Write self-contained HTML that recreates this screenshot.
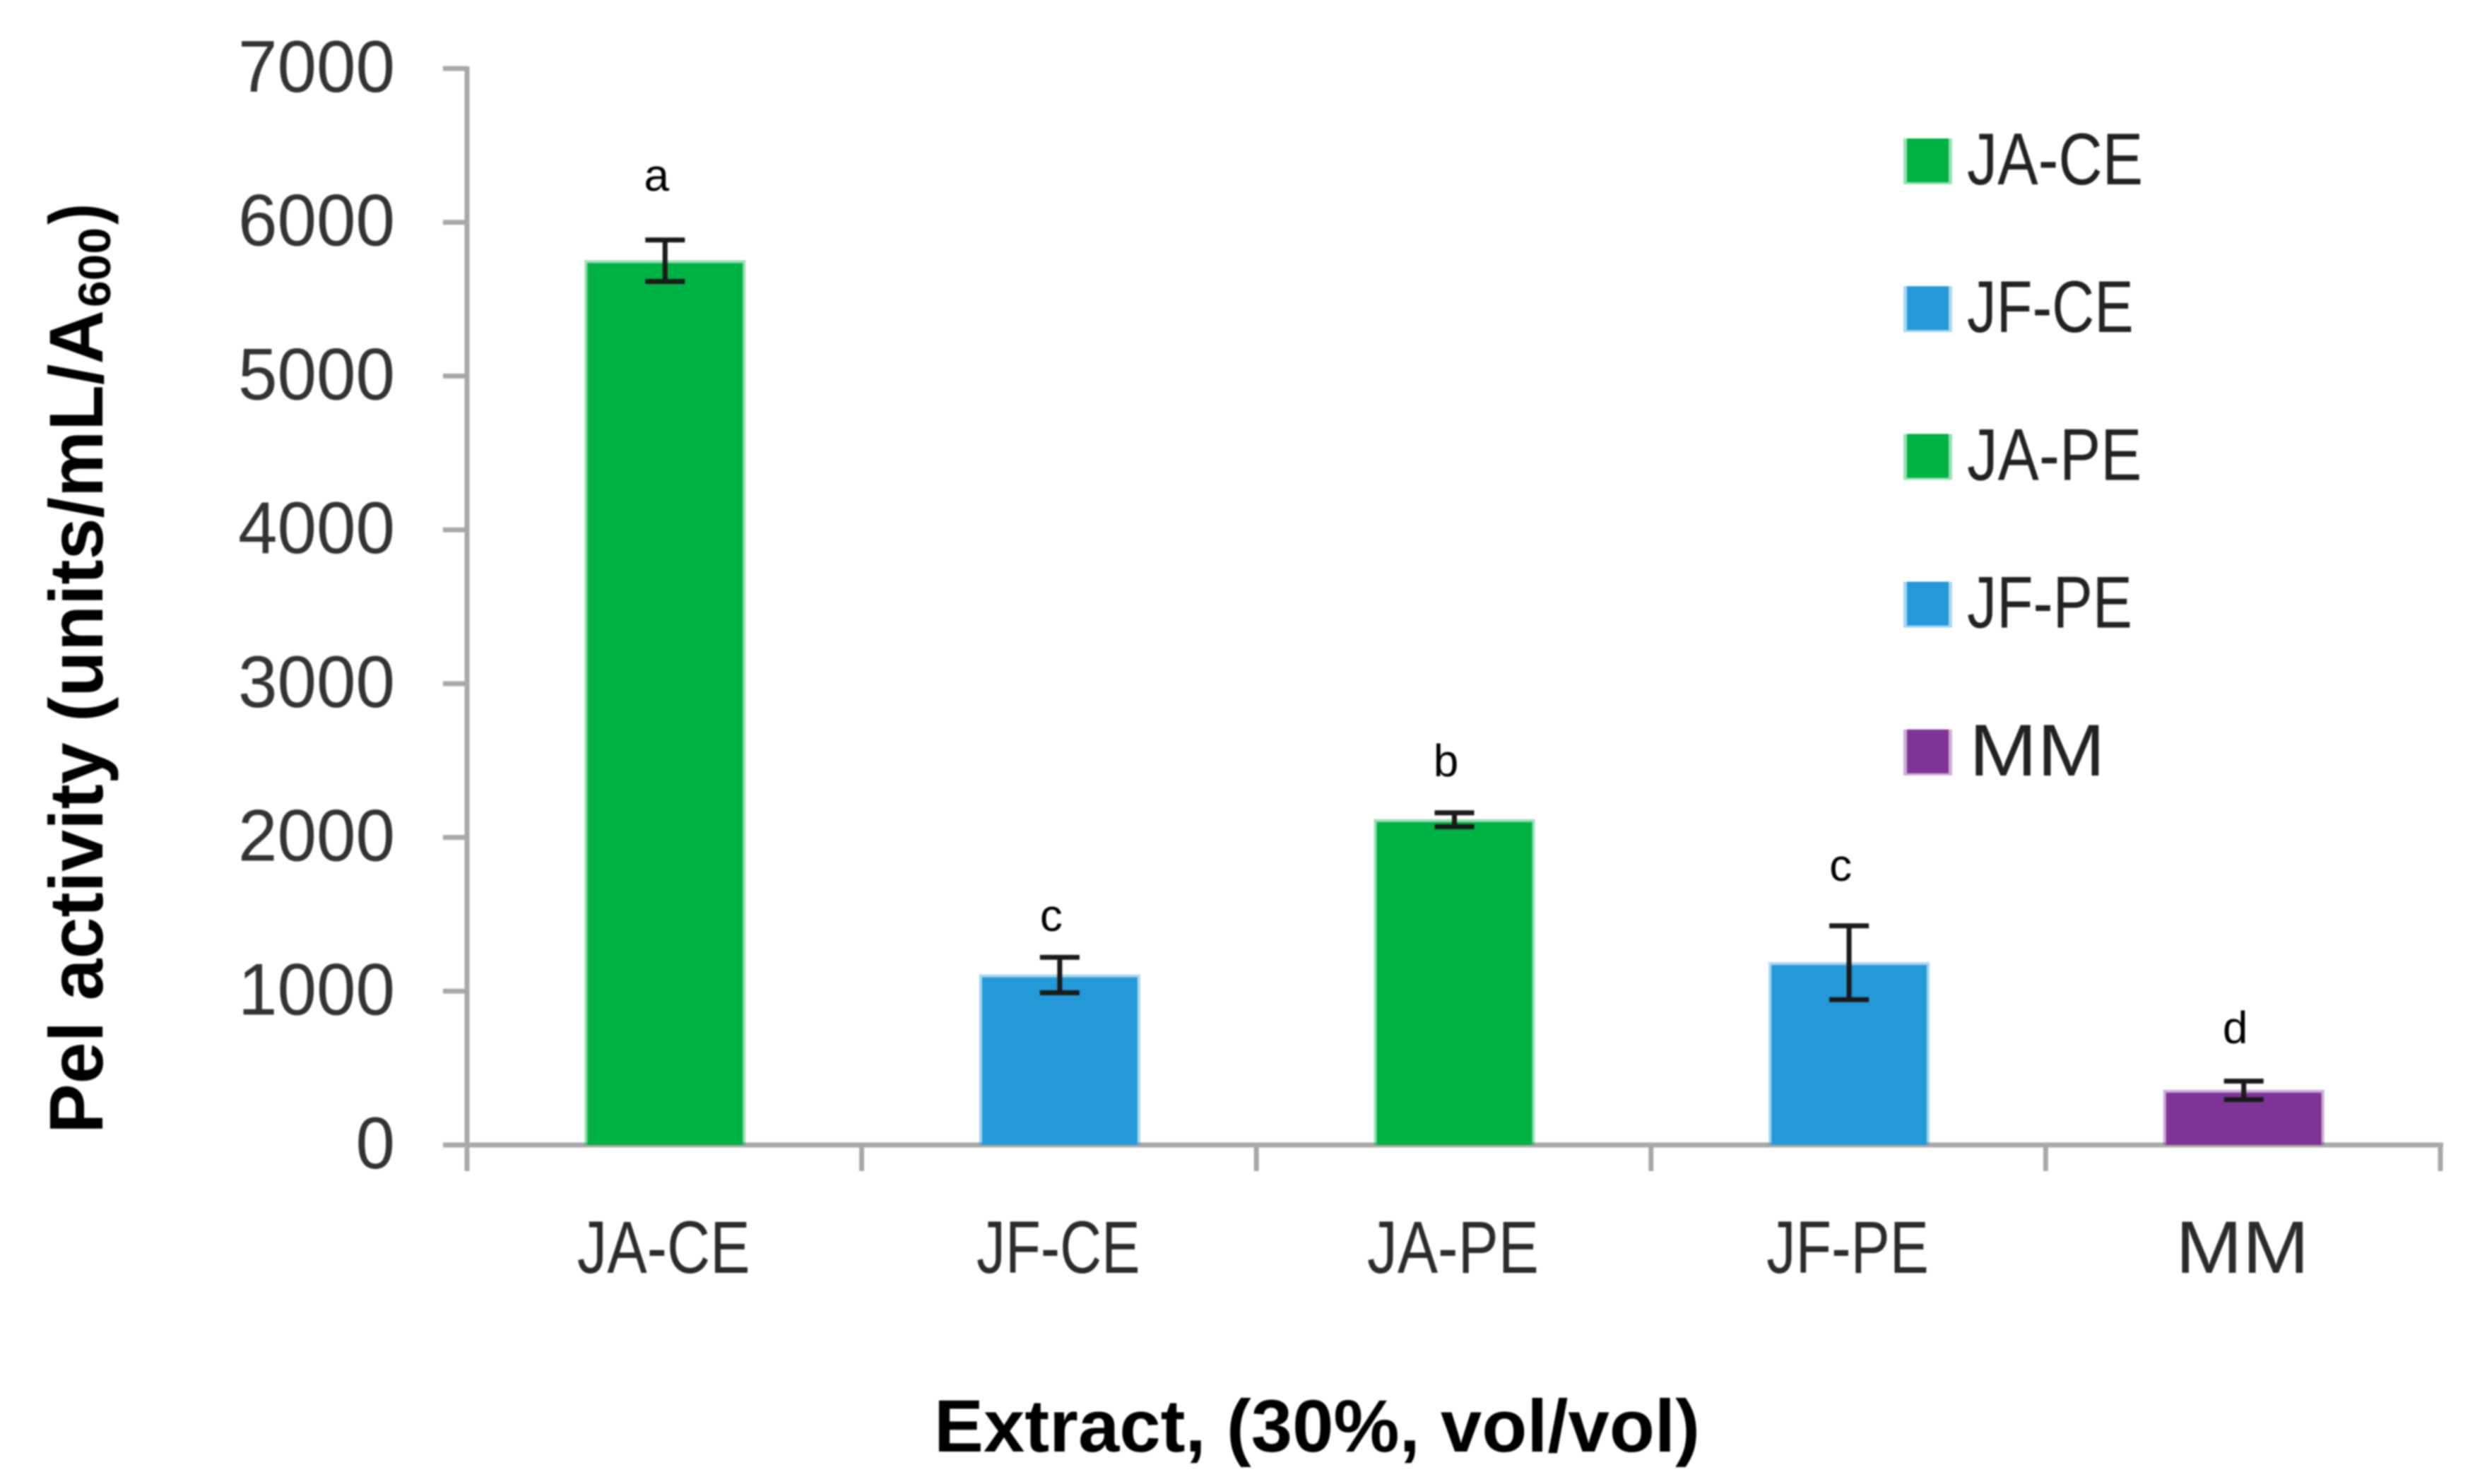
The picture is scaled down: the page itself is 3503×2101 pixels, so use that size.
<!DOCTYPE html>
<html lang="en">
<head>
<meta charset="utf-8">
<title>Pel activity by extract</title>
<style>
html,body{margin:0;padding:0;background:#fff;width:3503px;height:2101px;overflow:hidden}
svg{display:block}
text{font-family:"Liberation Sans",sans-serif}
#plot{filter:blur(1px)}
</style>
</head>
<body>
<svg id="chart" xmlns="http://www.w3.org/2000/svg" width="3503" height="2101" viewBox="0 0 3503 2101">
  <rect width="3503" height="2101" fill="#ffffff"/>
  <g id="plot">
    <g id="axes"></g>
    <g id="bars"></g>
    <g id="errors"></g>
    <g id="letters"></g>
    <g id="legend"></g>
    <g transform="translate(145,1605) rotate(-90)">
      <text x="0" y="0" font-size="108" font-weight="700" fill="#000" textLength="1166" lengthAdjust="spacingAndGlyphs">Pel activity (units/mL/A</text>
      <text x="1170" y="11" font-size="64" font-weight="700" fill="#000" textLength="113" lengthAdjust="spacingAndGlyphs">600</text>
      <text x="1287" y="0" font-size="108" font-weight="700" fill="#000" textLength="30" lengthAdjust="spacingAndGlyphs">)</text>
    </g>
    <text x="1322" y="2055" font-size="105" font-weight="700" fill="#000" textLength="1084" lengthAdjust="spacingAndGlyphs">Extract, (30%, vol/vol)</text>
  </g>
</svg>
<script>
const categories = ["JA-CE", "JF-CE", "JA-PE", "JF-PE", "MM"];
const pelActivity = [5735, 1090, 2100, 1170, 340];
const errorValues = [135, 115, 45, 240, 60];
const significance = ["a", "c", "b", "c", "d"];
const letterLevels = [6206, 1392, 2398, 1718, 661];
const barColors = ["#00b144", "#2399d8", "#00b144", "#2399d8", "#7f3597"];
const yTicks = [0, 1000, 2000, 3000, 4000, 5000, 6000, 7000];

const NS = "http://www.w3.org/2000/svg";
const plotLeft = 662, plotRight = 3455, axisX = 661;
const baseY = 1621, topY = 97, yMax = 7000;
const band = (plotRight - plotLeft) / categories.length;
const barW = 220, capHalf = 28;
const advance = {J:.319, A:.579, "-":.306, C:.533, E:.488, F:.459, P:.517, M:.86};

function y(v) { return baseY - (v / yMax) * (baseY - topY); }
function xCenter(i) { return plotLeft + (i + 0.5) * band; }
function xEdge(i) { return axisX + i * band; }
function labelWidth(s, size) {
  let w = 0;
  for (const ch of s) w += advance[ch] || 0.5;
  return w * size;
}
function make(tag, parent, attrs) {
  const el = document.createElementNS(NS, tag);
  for (const k in attrs) el.setAttribute(k, attrs[k]);
  parent.appendChild(el);
  return el;
}

const axes = document.getElementById("axes");
const barsG = document.getElementById("bars");
const errorsG = document.getElementById("errors");
const lettersG = document.getElementById("letters");
const legendG = document.getElementById("legend");
const axisStyle = {stroke: "#a8a8a8", "stroke-width": 7, fill: "none"};

const yLine = make("line", axes, {x1: axisX, x2: axisX, y1: y(yMax) - 3, y2: 1658, ...axisStyle});



const xLine = make("line", axes, {x1: 627, x2: plotRight + 3, y1: baseY, y2: baseY, ...axisStyle});



yTicks.forEach(function (t) {
  const tick = make("line", axes, {x1: 627, x2: axisX, y1: y(t), y2: y(t), ...axisStyle});
  
  
  const s = String(t);
  const label = make("text", axes, {
    x: 559, y: y(t) + 33, "font-size": 104, fill: "#333", "text-anchor": "end",
    textLength: s.length * 55.5, lengthAdjust: "spacingAndGlyphs"
  });
  label.textContent = s;
  
  
});

for (let i = 0; i <= categories.length; i++) {
  const tick = make("line", axes, {x1: xEdge(i), x2: xEdge(i), y1: baseY, y2: 1658, ...axisStyle});
  
  
}

categories.forEach(function (cat, i) {
  const cx = xCenter(i);
  const top = y(pelActivity[i]);

  const halo = make("rect", barsG, {x: cx - barW / 2 - 4, y: top - 4, width: barW + 8, height: baseY - top + 4, fill: barColors[i], opacity: 0.4});
  
  

  const bar = make("rect", barsG, {x: cx - barW / 2, y: top, width: barW, height: baseY - top, fill: barColors[i]});
  
  

  const hi = y(pelActivity[i] + 15 + errorValues[i]);
  const lo = y(pelActivity[i] + 15 - errorValues[i]);
  const errStyle = {stroke: "#1a1a1a", "stroke-width": 7};

  const stem = make("line", errorsG, {x1: cx, x2: cx, y1: hi, y2: lo, ...errStyle});
  
  

  const capTop = make("line", errorsG, {x1: cx - capHalf, x2: cx + capHalf, y1: hi, y2: hi, ...errStyle});
  
  

  const capBottom = make("line", errorsG, {x1: cx - capHalf, x2: cx + capHalf, y1: lo, y2: lo, ...errStyle});
  
  

  const letter = make("text", lettersG, {x: cx - 12, y: y(letterLevels[i]), "font-size": 64, fill: "#000", "text-anchor": "middle"});
  letter.textContent = significance[i];
  
  

  const catLabel = make("text", axes, {
    x: cx - 2 - labelWidth(cat, 110) / 2, y: 1802, "font-size": 105, fill: "#2b2b2b",
    textLength: labelWidth(cat, 110), lengthAdjust: "spacingAndGlyphs"
  });
  catLabel.textContent = cat;
  
  

  const rowTop = 196 + i * 209.2;
  const swatchHalo = make("rect", legendG, {x: 2694, y: rowTop, width: 69, height: 65, fill: barColors[i], opacity: 0.4});
  
  

  const swatch = make("rect", legendG, {x: 2699, y: rowTop, width: 59, height: 62, fill: barColors[i]});
  
  

  const legendText = make("text", legendG, {
    x: cat === "MM" ? 2787 : 2784, y: rowTop + 65, "font-size": 104, fill: "#222",
    textLength: labelWidth(cat, 112), lengthAdjust: "spacingAndGlyphs"
  });
  legendText.textContent = cat;
  
  
});
</script>
</body>
</html>
